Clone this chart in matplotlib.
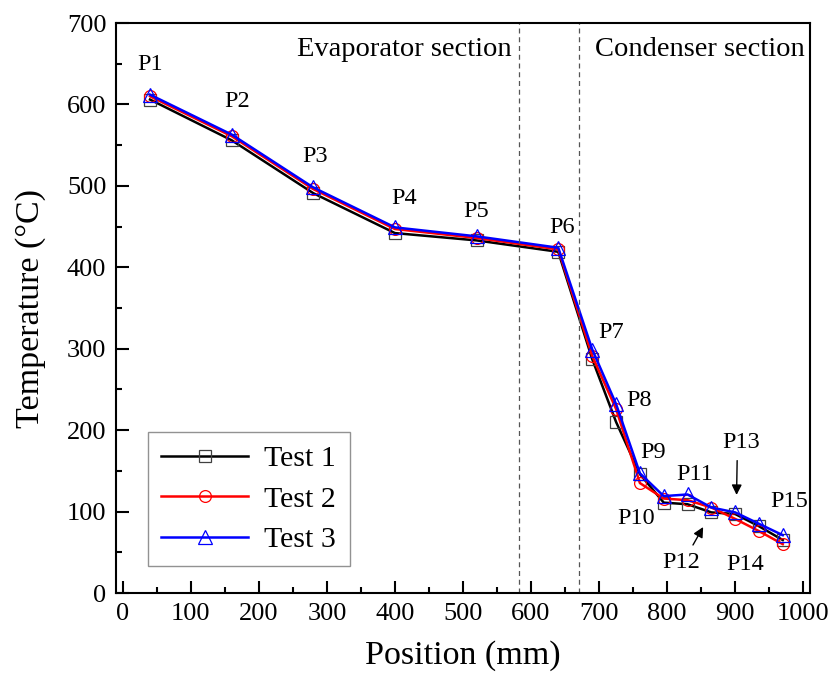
import matplotlib.pyplot as plt
from matplotlib.ticker import MultipleLocator

plt.rcParams['font.family'] = ['Liberation Serif', 'DejaVu Serif']

# positions of thermocouples P1..P15 (mm)
position = [40, 160, 280, 400, 520, 640, 690, 725, 760, 795, 830, 865, 900, 935, 970]
test1 = [606, 556, 491, 442, 433, 419, 287, 210, 146, 111, 109, 99, 97, 82, 65]
test2 = [610, 561, 496, 447, 436, 422, 291, 226, 135, 116, 114, 105, 91, 76, 60]
test3 = [612, 563, 498, 449, 438, 424, 299, 232, 147, 119, 121, 105, 99, 85, 71]

point_labels = ['P%d' % i for i in range(1, 16)]
label_x = [40, 168, 282, 414, 520, 646, 718, 758, 780, 755, 840, 820, 909, 914, 980]
label_y = [649, 603, 536, 485, 469, 449, 320, 236, 172, 91, 145, 37, 185, 35, 112]

evap_end = 582
cond_start = 670

fig = plt.figure(figsize=(8.35, 6.77), dpi=100)
ax = fig.add_axes([116 / 835, 1 - 593 / 677, 694 / 835, 570 / 677])

ax.plot(position, test1, color='black', lw=1.8, marker='s', ms=8.5, mfc='none',
        mec='#404040', mew=0.9, label='Test 1')
ax.plot(position, test2, color='red', lw=1.8, marker='o', ms=8.5, mfc='none',
        mec='red', mew=0.9, label='Test 2')
ax.plot(position, test3, color='blue', lw=1.8, marker='^', ms=9.5, mfc='none',
        mec='blue', mew=0.9, label='Test 3')

ax.axvline(evap_end, color='#555555', ls='--', lw=0.9, dashes=(4, 3))
ax.axvline(cond_start, color='#555555', ls='--', lw=0.9, dashes=(4, 3))

ax.text(evap_end - 10, 668, 'Evaporator section', ha='right', va='center', fontsize=20.5)
ax.text(cond_start + 24, 668, 'Condenser section', ha='left', va='center', fontsize=20.5)

for lab, lx, ly in zip(point_labels, label_x, label_y):
    ax.text(lx, ly, lab, ha='center', va='center', fontsize=17.5)

# small arrows pointing to P12 and P13
ax.annotate('', xy=(902, 117), xytext=(903, 166),
            arrowprops=dict(arrowstyle='-|>', color='black', lw=1, mutation_scale=15))
ax.annotate('', xy=(855, 84), xytext=(836, 56),
            arrowprops=dict(arrowstyle='-|>', color='black', lw=1, mutation_scale=15))

ax.set_xlim(-10, 1010)
ax.set_ylim(0, 700)
ax.xaxis.set_major_locator(MultipleLocator(100))
ax.xaxis.set_minor_locator(MultipleLocator(50))
ax.yaxis.set_major_locator(MultipleLocator(100))
ax.yaxis.set_minor_locator(MultipleLocator(50))
ax.tick_params(which='both', direction='in', width=1.5, labelsize=19)
ax.tick_params(which='major', length=9, pad=7)
ax.tick_params(which='minor', length=4.5)
for sp in ax.spines.values():
    sp.set_linewidth(1.5)

ax.set_xlabel('Position (mm)', fontsize=24.5, labelpad=11)
ax.set_ylabel('Temperature (°C)', fontsize=24.5, labelpad=15)

leg = ax.legend(loc='upper left', bbox_to_anchor=(0.046, 0.2825), borderaxespad=0,
                fontsize=21.5, handlelength=2.9, fancybox=False, edgecolor='#777777',
                borderpad=0.45, labelspacing=0.45, handletextpad=0.55)
leg.get_frame().set_linewidth(1.0)

fig.savefig('out.png', dpi=100)
